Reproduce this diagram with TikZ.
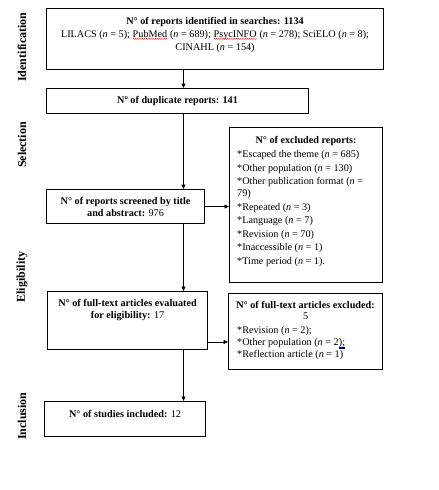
\documentclass[tikz,border=0pt]{standalone}
\usepackage{fontspec}
\setmainfont{Liberation Serif}
\usetikzlibrary{arrows.meta,decorations.pathmorphing}
\newcommand{\spellerr}[1]{\tikz[baseline=(sp.base)]{\node[inner sep=0pt,outer sep=0pt](sp){#1};\draw[red,line width=0.4pt,decorate,decoration={snake,amplitude=0.5pt,segment length=2.2pt}]([yshift=-1.6pt]sp.base west)--([yshift=-1.6pt]sp.base east);}}
\newcommand{\grammerr}[1]{\tikz[baseline=(gp.base)]{\node[inner sep=0pt,outer sep=0pt](gp){#1};\draw[blue!70!black,line width=0.35pt]([yshift=-1.4pt]gp.base west)--([yshift=-1.4pt]gp.base east);\draw[blue!70!black,line width=0.35pt]([yshift=-2.4pt]gp.base west)--([yshift=-2.4pt]gp.base east);}}
\begin{document}
\begin{tikzpicture}[x=1pt,y=-1pt,
  box/.style={draw,line width=1.1pt,anchor=north west,inner sep=0pt,font=\fontsize{10.2}{12}\selectfont,align=center},
  txt/.style={inner sep=0pt,font=\fontsize{10.2}{12.8}\selectfont},
  sidelabel/.style={rotate=90,font=\fontsize{12}{14}\selectfont\bfseries,inner sep=0pt},
  arr/.style={-{Triangle[length=4.5pt,width=4pt]},line width=0.9pt}]
\useasboundingbox (0,0) rectangle (439,490);

% side labels
\node[sidelabel] (lid) at (22,47) {Identification};
\node[sidelabel] (lsel) at (22,145) {Selection};
\node[sidelabel] (lel) at (22,277) {Eligibility};
\node[sidelabel] (lin) at (22,416) {Inclusion};

% boxes
\node[box,minimum width=337pt,minimum height=61pt] (b1) at (46,8) {};
\node[txt,anchor=north,align=center] (t1) at ([yshift=-9.1pt]b1.north)
  {\textbf{N° of reports identified in searches: 1134}\\
   LILACS (\textit{n} = 5); \spellerr{PubMed} (\textit{n} = 689); \spellerr{PsycINFO} (\textit{n} = 278); SciELO (\textit{n} = 8);\\
   CINAHL (\textit{n} = 154)};

\node[box,minimum width=262pt,minimum height=25pt] (b2) at (46,88) {\textbf{Nº of duplicate reports: 141}};

\node[box,minimum width=158pt,minimum height=34pt] (b3) at (46,189)
  {\textbf{N° of reports screened by title}\\ \textbf{and abstract:} 976};

\node[box,minimum width=153pt,minimum height=155pt] (e1) at (229,127) {};
\node[txt,anchor=north] (e1h) at ([yshift=-9.4pt]e1.north) {\textbf{N° of excluded reports:}};
\node[txt,anchor=north west,align=left,font=\fontsize{10.2}{11.7}\selectfont] (e1l) at ([xshift=8pt,yshift=-23.4pt]e1.north west)
  {*Escaped the theme (\textit{n} = 685)\\[1.9pt]
   *Other population (\textit{n} = 130)\\[1.9pt]
   *Other publication format (\textit{n} =\\
   79)\\[1.9pt]
   *Repeated (\textit{n} = 3)\\[1.9pt]
   *Language (\textit{n} = 7)\\[1.9pt]
   *Revision (\textit{n} = 70)\\[1.9pt]
   *Inaccessible (\textit{n} = 1)\\[1.9pt]
   *Time period (\textit{n} = 1).};

\node[box,minimum width=160pt,minimum height=58pt] (b4) at (47,291) {};
\node[txt,anchor=north,align=center,font=\fontsize{10.2}{12}\selectfont] (t4) at ([yshift=-8.4pt]b4.north)
  {\textbf{N° of full-text articles evaluated}\\ \textbf{for eligibility:} 17};

\node[box,minimum width=154pt,minimum height=76pt] (e2) at (228,293) {};
\node[txt,anchor=north,align=center,font=\fontsize{10.2}{11}\selectfont] (e2h) at ([yshift=-8.4pt]e2.north)
  {\textbf{N° of full-text articles excluded:}\\ 5};
\node[txt,anchor=north west,align=left,font=\fontsize{10.2}{12}\selectfont] (e2l) at ([xshift=9pt,yshift=-33.4pt]e2.north west)
  {*Revision (\textit{n} = 2);\\
   *Other population (\textit{n} = 2\grammerr{);}\\
   *Reflection article (\textit{n} = 1)};

\node[box,minimum width=161pt,minimum height=35pt] (b5) at (44,401) {};
\node[txt,anchor=north] (t5) at ([yshift=-9.4pt]b5.north) {\textbf{N° of studies included:} 12};

% connectors
\coordinate (col) at (183.5,0);
\coordinate (row2) at (0,342);
\draw[arr] (b1.south -| col) -- (b2.north -| col);
\draw[arr] (b2.south -| col) -- (b3.north -| col);
\draw[arr] (b3.south -| col) -- (b4.north -| col);
\draw[arr] (b4.south -| col) -- (b5.north -| col);
\draw[arr] (b3.east) -- (b3.east -| e1.west);
\draw[arr] (b4.east |- row2) -- (e2.west |- row2);
\end{tikzpicture}
\end{document}
